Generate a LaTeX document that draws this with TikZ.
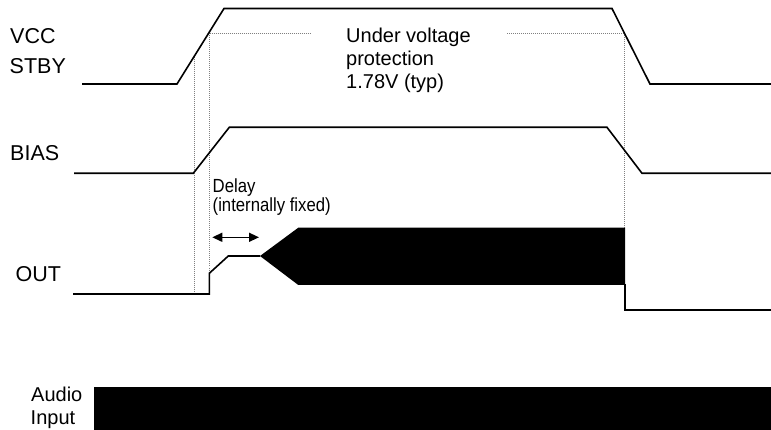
\documentclass[tikz,border=0pt]{standalone}
\usepackage{fontspec}
\setmainfont{Liberation Sans}
\newfontfamily\narrowfont[FakeStretch=0.88]{Liberation Sans}
\usetikzlibrary{arrows.meta}
\begin{document}
\begin{tikzpicture}[x=1pt,y=-1pt,
    wave/.style={line width=1.6pt},
    guide/.style={gray, line width=0.9pt, dash pattern=on 1pt off 1pt},
    lbl/.style={anchor=base west, inner sep=0pt, font=\fontsize{21.5}{25}\selectfont},
    txt/.style={anchor=base west, inner sep=0pt, font=\fontsize{20}{23}\selectfont},
    note/.style={anchor=base west, inner sep=0pt, font=\narrowfont\fontsize{19}{22}\selectfont},
    tip/.style={{Triangle[length=10pt,width=9pt]}-{Triangle[length=10pt,width=9pt]}}]

\useasboundingbox (0,0) rectangle (771,430);

% guide lines
\draw[guide] (194, 56.7) -- (194, 294);
\draw[guide] (209.5, 33.5) -- (209.5, 273.3);
\draw[guide] (209.5, 33.5) -- (310, 33.5);
\draw[guide] (507, 33.5) -- (624.6, 33.5);
\draw[guide] (624.6, 33.5) -- (624.6, 227.7);

% VCC STBY
\draw[wave] (82, 84) -- (177, 84) -- (224, 8.5) -- (612, 8.5) -- (650, 84) -- (771, 84);

% BIAS
\draw[wave] (74, 173.3) -- (193.3, 173.3) -- (229.3, 127.3) -- (607, 127.3) -- (642, 173.3) -- (771, 173.3);

% OUT
\draw[wave] (73, 294) -- (209.3, 294) -- (209.3, 273.3) -- (228.3, 256) -- (260, 256);
\fill (260, 256) -- (298.3, 227.7) -- (625, 227.7) -- (625, 285) -- (298.3, 285) -- cycle;
\draw[wave] (625, 284) -- (625, 310) -- (771, 310);

% delay
\coordinate (d1) at (212.3, 237.3);
\coordinate (d2) at (259, 237.3);
\draw[line width=1.4pt, tip] (d1) -- (d2);

% audio input
\fill (94.3, 386.7) rectangle (771, 430);

% labels
\node[lbl] (vcc) at (10, 43.3) {VCC};
\node[lbl] (stby) at (9.5, 74) {STBY};
\node[lbl] (bias) at (10, 160.7) {BIAS};
\node[lbl] (out) at (15.5, 281.3) {OUT};
\node[txt] (audio) at (31, 401.7) {Audio};
\node[txt] (input) at (30.5, 424) {Input};

\node[txt] (uvp1) at (346, 43) {Under voltage};
\node[txt] (uvp2) at (346, 66) {protection};
\node[txt] (uvp3) at (346, 89) {1.78V (typ)};

\node[note] (delay1) at (212.5, 192.3) {Delay};
\node[note] (delay2) at (212.5, 212) {(internally fixed)};

\end{tikzpicture}
\end{document}
